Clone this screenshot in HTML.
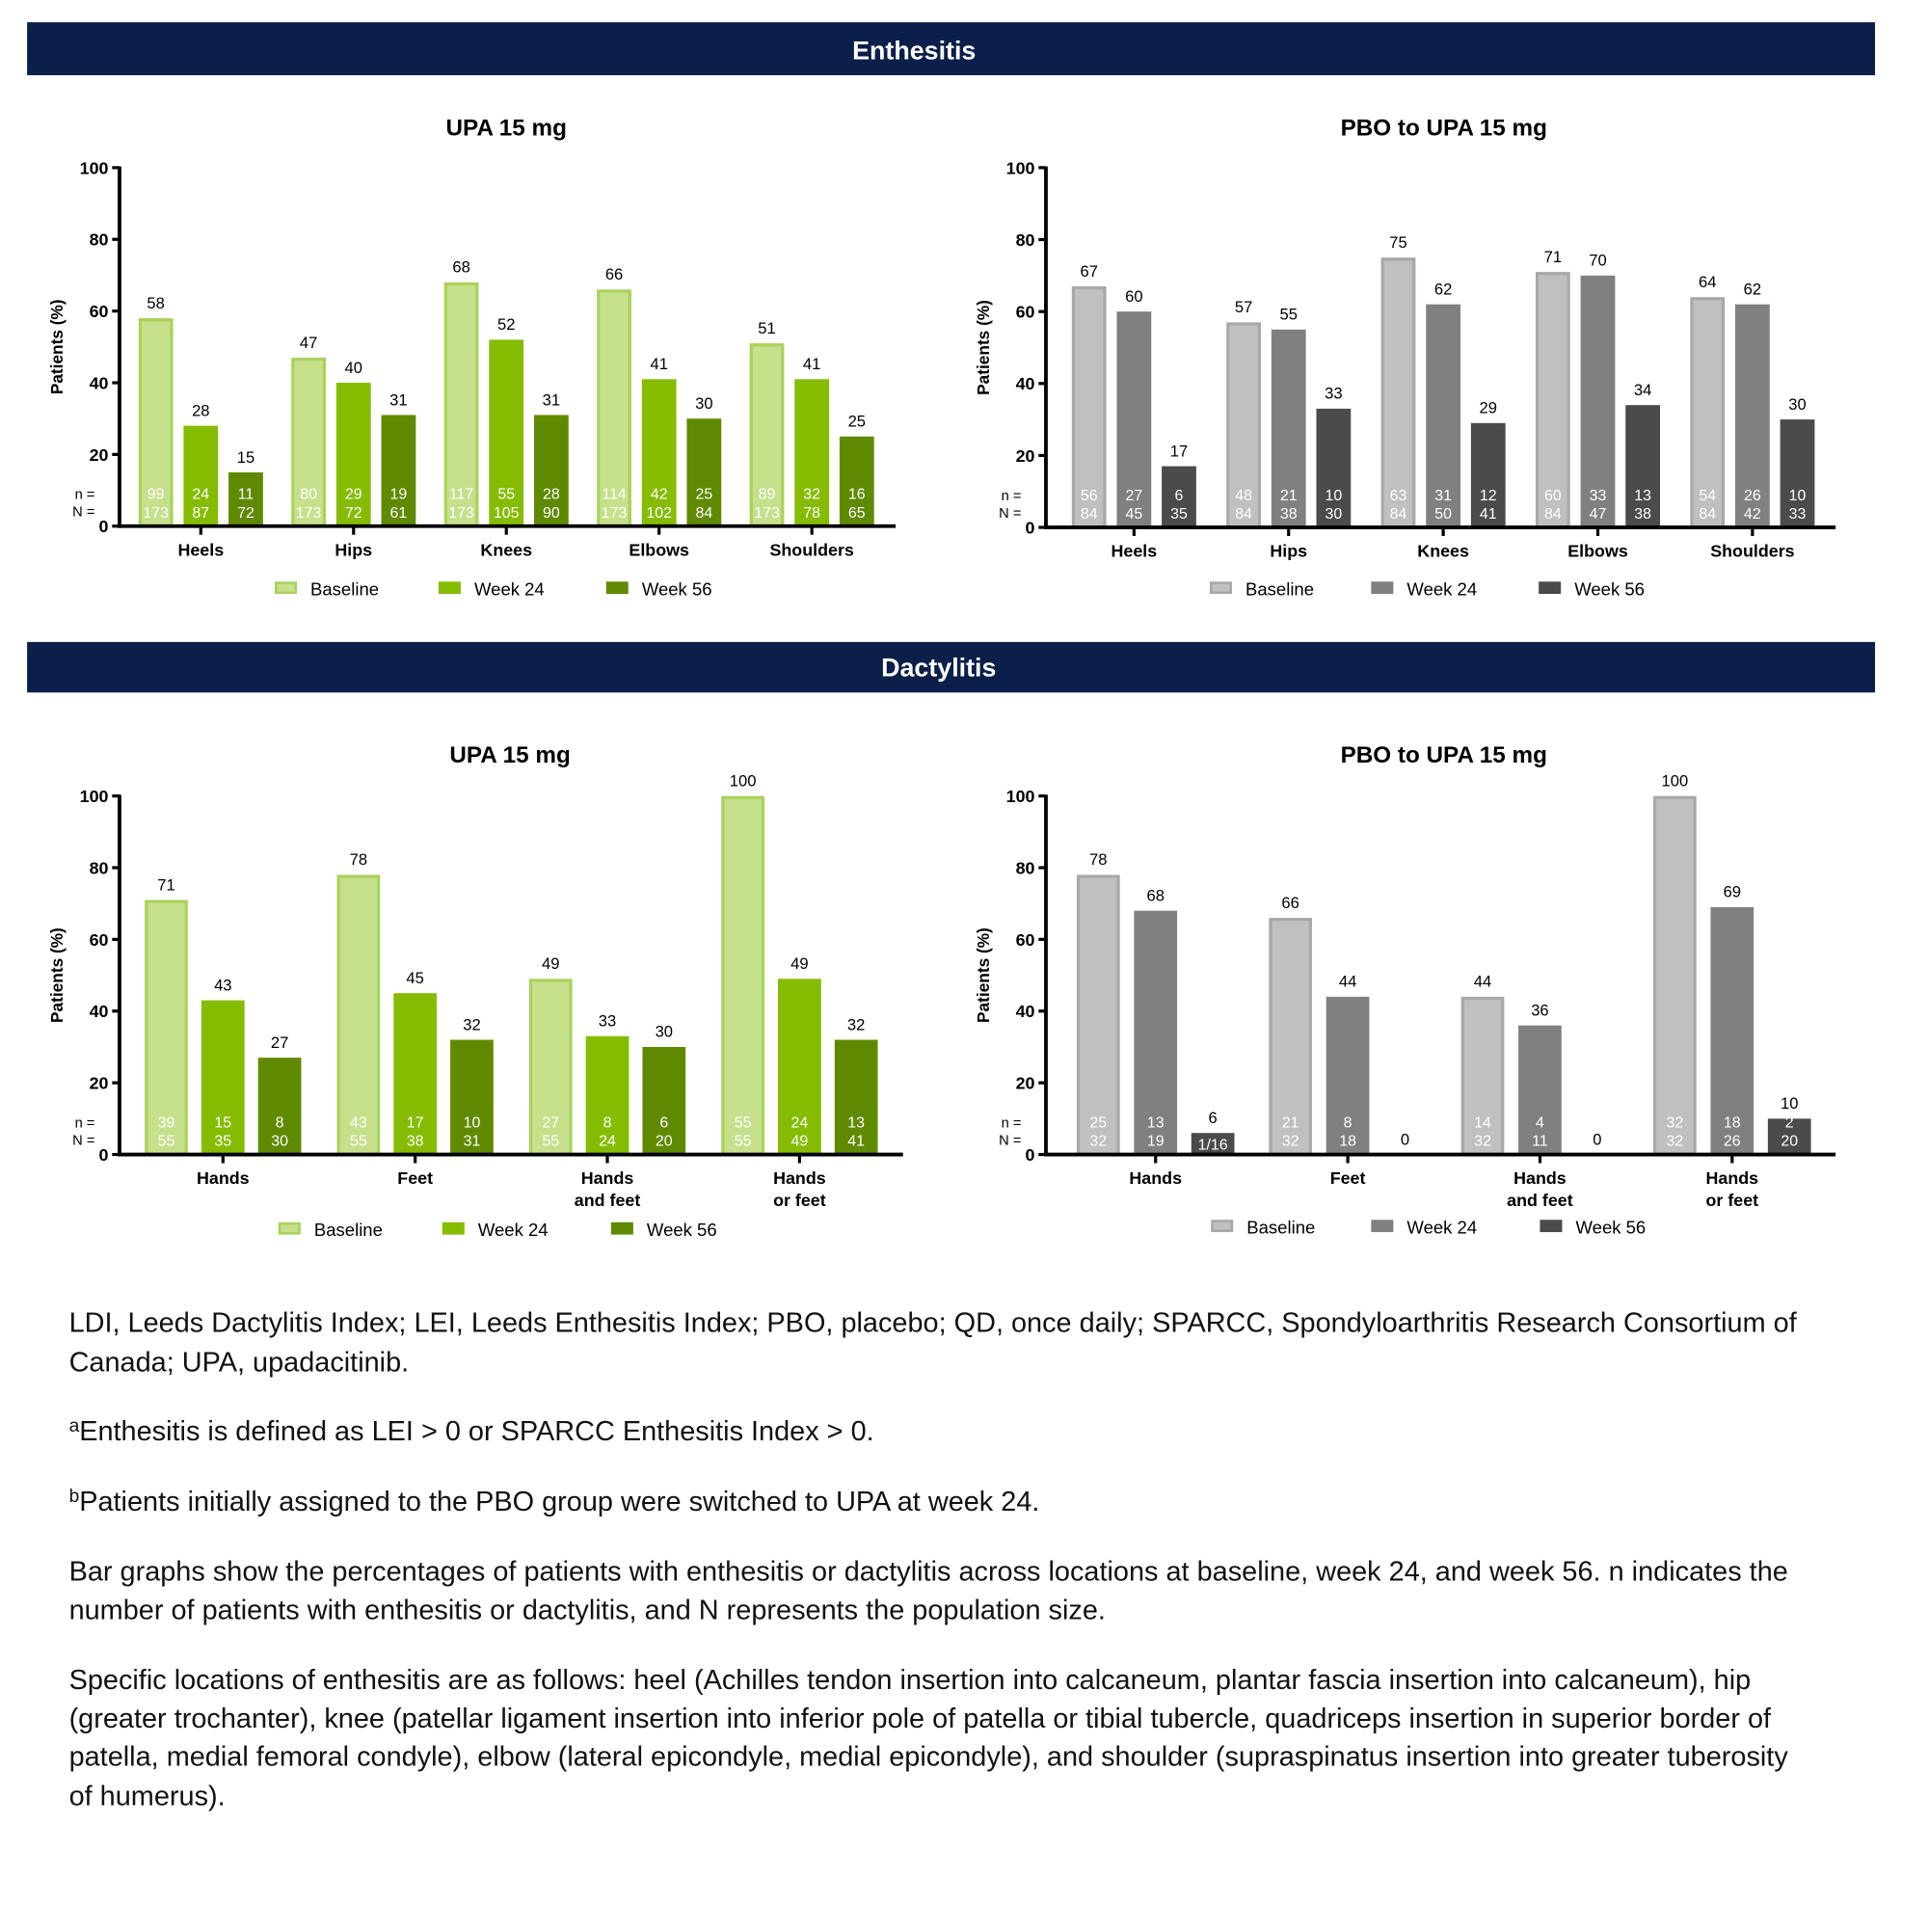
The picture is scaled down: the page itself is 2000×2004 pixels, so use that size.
<!DOCTYPE html>
<html><head><meta charset="utf-8"><style>
html,body{margin:0;padding:0;background:#fff}
svg{display:block}
text{font-family:"Liberation Sans",Arial,sans-serif}
</style></head><body>
<svg id="root" width="2000" height="2004" viewBox="0 0 1565 1568" xmlns="http://www.w3.org/2000/svg">
<rect x="22" y="18" width="1500" height="43" fill="#0b1f4b"/>
<text x="742" y="48" font-size="21" font-weight="bold" fill="#fff" text-anchor="middle">Enthesitis</text>
<rect x="22" y="521" width="1500" height="41" fill="#0b1f4b"/>
<text x="762" y="549" font-size="21" font-weight="bold" fill="#fff" text-anchor="middle">Dactylitis</text>
<g id="charts"></g>
<g font-size="22.6" fill="#111">
<text x="56" y="1081">LDI, Leeds Dactylitis Index; LEI, Leeds Enthesitis Index; PBO, placebo; QD, once daily; SPARCC, Spondyloarthritis Research Consortium of</text>
<text x="56" y="1113">Canada; UPA, upadacitinib.</text>
<text x="56" y="1169"><tspan font-size="15" dy="-7">a</tspan><tspan dy="7">Enthesitis is defined as LEI &gt; 0 or SPARCC Enthesitis Index &gt; 0.</tspan></text>
<text x="56" y="1226"><tspan font-size="15" dy="-7">b</tspan><tspan dy="7">Patients initially assigned to the PBO group were switched to UPA at week 24.</tspan></text>
<text x="56" y="1283">Bar graphs show the percentages of patients with enthesitis or dactylitis across locations at baseline, week 24, and week 56. n indicates the</text>
<text x="56" y="1314">number of patients with enthesitis or dactylitis, and N represents the population size.</text>
<text x="56" y="1371">Specific locations of enthesitis are as follows: heel (Achilles tendon insertion into calcaneum, plantar fascia insertion into calcaneum), hip</text>
<text x="56" y="1402">(greater trochanter), knee (patellar ligament insertion into inferior pole of patella or tibial tubercle, quadriceps insertion in superior border of</text>
<text x="56" y="1433">patella, medial femoral condyle), elbow (lateral epicondyle, medial epicondyle), and shoulder (supraspinatus insertion into greater tuberosity</text>
<text x="56" y="1465">of humerus).</text>
</g>
</svg>
<script>
// ---- data ----
const enthCats = ["Heels","Hips","Knees","Elbows","Shoulders"];
const dactCats = [["Hands"],["Feet"],["Hands","and feet"],["Hands","or feet"]];
const seriesNames = ["Baseline","Week 24","Week 56"];
const yTicks = [0,20,40,60,80,100];
// Enthesitis UPA
const e1Base = [58,47,68,66,51];
const e1W24 = [28,40,52,41,41];
const e1W56 = [15,31,31,30,25];
const e1nBase = ["99","80","117","114","89"], e1NBase = ["173","173","173","173","173"];
const e1nW24 = ["24","29","55","42","32"], e1NW24 = ["87","72","105","102","78"];
const e1nW56 = ["11","19","28","25","16"], e1NW56 = ["72","61","90","84","65"];
// Enthesitis PBO->UPA
const e2Base = [67,57,75,71,64];
const e2W24 = [60,55,62,70,62];
const e2W56 = [17,33,29,34,30];
const e2nBase = ["56","48","63","60","54"], e2NBase = ["84","84","84","84","84"];
const e2nW24 = ["27","21","31","33","26"], e2NW24 = ["45","38","50","47","42"];
const e2nW56 = ["6","10","12","13","10"], e2NW56 = ["35","30","41","38","33"];
// Dactylitis UPA
const d1Base = [71,78,49,100];
const d1W24 = [43,45,33,49];
const d1W56 = [27,32,30,32];
const d1nBase = ["39","43","27","55"], d1NBase = ["55","55","55","55"];
const d1nW24 = ["15","17","8","24"], d1NW24 = ["35","38","24","49"];
const d1nW56 = ["8","10","6","13"], d1NW56 = ["30","31","20","41"];
// Dactylitis PBO->UPA
const d2Base = [78,66,44,100];
const d2W24 = [68,44,36,69];
const d2W56 = [6,0,0,10];
const d2nBase = ["25","21","14","32"], d2NBase = ["32","32","32","32"];
const d2nW24 = ["13","8","4","18"], d2NW24 = ["19","18","11","26"];
const d2nW56 = ["1/16","","","2"], d2NW56 = ["","","","20"];

const NS="http://www.w3.org/2000/svg";
const host=document.getElementById('charts');
function mk(tag,attrs,parent,txt){const e=document.createElementNS(NS,tag);for(const k in attrs)e.setAttribute(k,attrs[k]);if(txt!==undefined)e.textContent=txt;(parent||host).appendChild(e);return e;}

const greens={fill:["#c6e08c","#86bc00","#5f8a00"],stroke:["#a9d25a","#86bc00","#5f8a00"]};
const grays={fill:["#c0c0c0","#808080","#4b4b4b"],stroke:["#a8a8a8","#808080","#4b4b4b"]};

function chart(cfg){
  const g=mk('g',{});
  
  
  const y=v=>cfg.y0-(cfg.y0-cfg.y100)*v/100;
  const xc=i=>cfg.cx0+i*cfg.step;
  const t=mk('text',{x:cfg.titleX,y:cfg.titleY,'font-size':19,'font-weight':'bold','text-anchor':'middle',fill:'#000'},g,cfg.title);
  
  
  const yt=mk('text',{x:0,y:0,transform:`translate(${cfg.ax-46},${(cfg.y0+cfg.y100)/2}) rotate(-90)`,'font-size':13.5,'font-weight':'bold','text-anchor':'middle'},g,'Patients (%)');
  
  
  yTicks.forEach(v=>{
    mk('line',{x1:cfg.ax-6,x2:cfg.ax,y1:y(v),y2:y(v),stroke:'#000','stroke-width':2.5},g);
    const tl=mk('text',{x:cfg.ax-9,y:y(v)+5,'font-size':14,'font-weight':'bold','text-anchor':'end'},g,String(v));
    
    
  });
  mk('text',{x:cfg.ax-20,y:cfg.y0-22,'font-size':11.5,'text-anchor':'end'},g,'n =');
  mk('text',{x:cfg.ax-20,y:cfg.y0-8,'font-size':11.5,'text-anchor':'end'},g,'N =');
  const pal=cfg.pal;
  cfg.cats.forEach((c,i)=>{
    const lines=Array.isArray(c)?c:[c];
    lines.forEach((l,k)=>{
      const cl=mk('text',{x:xc(i),y:cfg.y0+24+k*18,'font-size':14,'font-weight':'bold','text-anchor':'middle'},g,l);
      
      
    });
    mk('line',{x1:xc(i),x2:xc(i),y1:cfg.y0,y2:cfg.y0+7,stroke:'#000','stroke-width':2.5},g);
    cfg.series.forEach((s,j)=>{
      const v=s[i];
      const bx=xc(i)+(j-1)*cfg.off-cfg.bw/2;
      const sw=j===0?2.5:0;
      if(v>0){
        const r=mk('rect',{x:bx+sw/2,y:y(v)+sw/2,width:cfg.bw-sw,height:cfg.y0-y(v)-sw/2,fill:pal.fill[j],stroke:pal.stroke[j],'stroke-width':sw},g);
        
        
      }
      const vl=mk('text',{x:bx+cfg.bw/2,y:y(v)-8,'font-size':13,'text-anchor':'middle'},g,String(v));
      
      
      const n=cfg.n[j][i],N=cfg.N[j][i];
      if(n&&N){
        mk('text',{x:bx+cfg.bw/2,y:cfg.y0-22,'font-size':12.5,'text-anchor':'middle',fill:'#fff'},g,n);
        mk('text',{x:bx+cfg.bw/2,y:cfg.y0-7,'font-size':12.5,'text-anchor':'middle',fill:'#fff'},g,N);
      } else if(n){
        mk('text',{x:bx+cfg.bw/2,y:cfg.y0-4,'font-size':12.5,'text-anchor':'middle',fill:'#fff'},g,n);
      }
    });
  });
  mk('line',{x1:cfg.ax,x2:cfg.ax,y1:cfg.y100-1,y2:cfg.y0+1.5,stroke:'#000','stroke-width':3},g);
  mk('line',{x1:cfg.ax-1.5,x2:cfg.axEnd,y1:cfg.y0,y2:cfg.y0,stroke:'#000','stroke-width':3},g);
  cfg.leg.forEach((lx,j)=>{
    const sw=j===0?2:0;
    const lr=mk('rect',{x:lx+sw/2,y:cfg.legY-6+sw/2,width:18-sw,height:10-sw,fill:pal.fill[j],stroke:pal.stroke[j],'stroke-width':sw},g);
    
    
    const lt=mk('text',{x:lx+29,y:cfg.legY+5,'font-size':14.5},g,seriesNames[j]);
    
    
  });
}
chart({name:'enthesitis-upa-chart',title:'UPA 15 mg',titleX:411,titleY:110,ax:97,axEnd:727,y0:427,y100:136,cx0:163,step:124,off:36.5,bw:28,
  cats:enthCats,series:[e1Base,e1W24,e1W56],n:[e1nBase,e1nW24,e1nW56],N:[e1NBase,e1NW24,e1NW56],pal:greens,leg:[223,356,492],legY:478});
chart({name:'enthesitis-pbo-chart',title:'PBO to UPA 15 mg',titleX:1172,titleY:110,ax:849,axEnd:1490,y0:428,y100:136,cx0:920.5,step:125.5,off:36.5,bw:28,
  cats:enthCats,series:[e2Base,e2W24,e2W56],n:[e2nBase,e2nW24,e2nW56],N:[e2NBase,e2NW24,e2NW56],pal:grays,leg:[982,1113,1249],legY:478});
chart({name:'dactylitis-upa-chart',title:'UPA 15 mg',titleX:414,titleY:619,ax:97,axEnd:733,y0:937,y100:646,cx0:181,step:156,off:46,bw:35,
  cats:dactCats,series:[d1Base,d1W24,d1W56],n:[d1nBase,d1nW24,d1nW56],N:[d1NBase,d1NW24,d1NW56],pal:greens,leg:[226,359,496],legY:998});
chart({name:'dactylitis-pbo-chart',title:'PBO to UPA 15 mg',titleX:1172,titleY:619,ax:849,axEnd:1490,y0:937,y100:646,cx0:938,step:156,off:46.5,bw:35,
  cats:dactCats,series:[d2Base,d2W24,d2W56],n:[d2nBase,d2nW24,d2nW56],N:[d2NBase,d2NW24,d2NW56],pal:grays,leg:[983,1113,1250],legY:996});
</script>
</body></html>
